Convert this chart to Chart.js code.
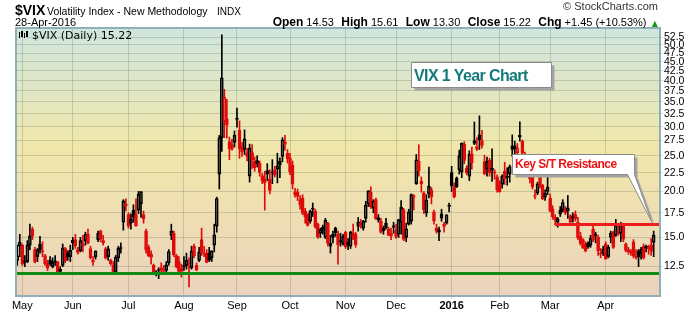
<!DOCTYPE html>
<html>
<head>
<meta charset="UTF-8" />
<title>VIX 1 Year Chart</title>
<script src="https://cdn.jsdelivr.net/npm/chart.js"></script>
<style>
  html, body { margin: 0; padding: 0; background: #fff; }
  #wrap { position: relative; width: 700px; height: 312px; overflow: hidden; font-family: "Liberation Sans", Arial, sans-serif; }
  canvas { position: absolute; left: 0; top: 0; }
  .txt { position: absolute; white-space: nowrap; line-height: 1; color: #000; }
  .hdr span { margin-left: 4px; }
  .hdr b { font-size: 12px; }
  .hdr span.v { font-size: 11px; margin-left: 3px; }
</style>
</head>
<body>
<div id="wrap">
  <canvas id="vixChart" width="700" height="312"></canvas>
  <div class="txt" style="left:15px;top:3px;font-size:14px;font-weight:bold;">$VIX</div>
  <div class="txt" style="left:47px;top:6px;font-size:10.5px;">Volatility Index - New Methodology</div>
  <div class="txt" style="left:217px;top:7px;font-size:10px;">INDX</div>
  <div class="txt" style="left:15px;top:17px;font-size:11px;">28-Apr-2016</div>
  <div class="txt" style="right:42px;top:1px;font-size:11px;color:#333;">&copy; StockCharts.com</div>
  <div class="txt hdr" style="right:42px;top:16px;font-size:12px;">
    <b>Open</b><span class="v">14.53</span>
    <span><b>High</b></span><span class="v">15.61</span>
    <span><b>Low</b></span><span class="v">13.30</span>
    <span><b>Close</b></span><span class="v">15.22</span>
    <span><b>Chg</b></span><span class="v">+1.45 (+10.53%)</span>
    <span style="font-family:'DejaVu Sans';font-size:8px;color:#1a9a1a;margin-left:2px;">&#9650;</span>
  </div>
  <div class="txt" style="left:32px;top:30px;font-size:11px;font-family:'DejaVu Sans';">$VIX (Daily) 15.22</div>
  <div class="txt" style="left:414px;top:68px;font-size:16px;font-weight:bold;color:#157a78;letter-spacing:-0.6px;">VIX 1 Year Chart</div>
  <div class="txt" style="left:515px;top:158px;font-size:12px;font-weight:bold;color:#ee1111;letter-spacing:-0.5px;">Key S/T Resistance</div>
</div>
<script>
// trading days, Apr 29 2015 - Apr 28 2016
const dates = [
  '2015-04-29','2015-04-30',
  '2015-05-01','2015-05-04','2015-05-05','2015-05-06','2015-05-07','2015-05-08','2015-05-11','2015-05-12','2015-05-13','2015-05-14',
  '2015-05-15','2015-05-18','2015-05-19','2015-05-20','2015-05-21','2015-05-22','2015-05-26','2015-05-27','2015-05-28','2015-05-29',
  '2015-06-01','2015-06-02','2015-06-03','2015-06-04','2015-06-05','2015-06-08','2015-06-09','2015-06-10','2015-06-11','2015-06-12',
  '2015-06-15','2015-06-16','2015-06-17','2015-06-18','2015-06-19','2015-06-22','2015-06-23','2015-06-24','2015-06-25','2015-06-26','2015-06-29','2015-06-30',
  '2015-07-01','2015-07-02','2015-07-06','2015-07-07','2015-07-08','2015-07-09','2015-07-10','2015-07-13','2015-07-14','2015-07-15',
  '2015-07-16','2015-07-17','2015-07-20','2015-07-21','2015-07-22','2015-07-23','2015-07-24','2015-07-27','2015-07-28','2015-07-29','2015-07-30','2015-07-31',
  '2015-08-03','2015-08-04','2015-08-05','2015-08-06','2015-08-07','2015-08-10','2015-08-11','2015-08-12','2015-08-13','2015-08-14',
  '2015-08-17','2015-08-18','2015-08-19','2015-08-20','2015-08-21','2015-08-24','2015-08-25','2015-08-26','2015-08-27','2015-08-28','2015-08-31',
  '2015-09-01','2015-09-02','2015-09-03','2015-09-04','2015-09-08','2015-09-09','2015-09-10','2015-09-11','2015-09-14','2015-09-15',
  '2015-09-16','2015-09-17','2015-09-18','2015-09-21','2015-09-22','2015-09-23','2015-09-24','2015-09-25','2015-09-28','2015-09-29','2015-09-30',
  '2015-10-01','2015-10-02','2015-10-05','2015-10-06','2015-10-07','2015-10-08','2015-10-09','2015-10-12','2015-10-13','2015-10-14',
  '2015-10-15','2015-10-16','2015-10-19','2015-10-20','2015-10-21','2015-10-22','2015-10-23','2015-10-26','2015-10-27','2015-10-28','2015-10-29','2015-10-30',
  '2015-11-02','2015-11-03','2015-11-04','2015-11-05','2015-11-06','2015-11-09','2015-11-10','2015-11-11','2015-11-12','2015-11-13',
  '2015-11-16','2015-11-17','2015-11-18','2015-11-19','2015-11-20','2015-11-23','2015-11-24','2015-11-25','2015-11-27','2015-11-30',
  '2015-12-01','2015-12-02','2015-12-03','2015-12-04','2015-12-07','2015-12-08','2015-12-09','2015-12-10','2015-12-11','2015-12-14',
  '2015-12-15','2015-12-16','2015-12-17','2015-12-18','2015-12-21','2015-12-22','2015-12-23','2015-12-24','2015-12-28','2015-12-29','2015-12-30','2015-12-31',
  '2016-01-04','2016-01-05','2016-01-06','2016-01-07','2016-01-08','2016-01-11','2016-01-12','2016-01-13','2016-01-14','2016-01-15',
  '2016-01-19','2016-01-20','2016-01-21','2016-01-22','2016-01-25','2016-01-26','2016-01-27','2016-01-28','2016-01-29',
  '2016-02-01','2016-02-02','2016-02-03','2016-02-04','2016-02-05','2016-02-08','2016-02-09','2016-02-10','2016-02-11','2016-02-12',
  '2016-02-16','2016-02-17','2016-02-18','2016-02-19','2016-02-22','2016-02-23','2016-02-24','2016-02-25','2016-02-26','2016-02-29',
  '2016-03-01','2016-03-02','2016-03-03','2016-03-04','2016-03-07','2016-03-08','2016-03-09','2016-03-10','2016-03-11','2016-03-14',
  '2016-03-15','2016-03-16','2016-03-17','2016-03-18','2016-03-21','2016-03-22','2016-03-23','2016-03-24','2016-03-28','2016-03-29','2016-03-30','2016-03-31',
  '2016-04-01','2016-04-04','2016-04-05','2016-04-06','2016-04-07','2016-04-08','2016-04-11','2016-04-12','2016-04-13','2016-04-14',
  '2016-04-15','2016-04-18','2016-04-19','2016-04-20','2016-04-21','2016-04-22','2016-04-25','2016-04-26','2016-04-27','2016-04-28'
];

const openP = [
  13.0, 14.2,
  14.3, 12.9, 12.9, 14.3, 15.8, 13.9, 13.3, 14.4, 13.7, 13.4, 12.7, 13.0, 12.5, 12.9, 12.9, 12.3, 12.6, 14.0, 13.6, 13.3,
  14.5, 14.8, 13.9, 13.8, 14.4, 14.7, 15.3, 14.0, 13.0, 13.3, 14.8, 15.6, 14.7, 14.0, 13.3, 13.0, 12.6, 12.1, 13.2, 14.0, 16.5, 18.5,
  17.3, 16.4, 17.8, 17.3, 17.8, 18.5, 17.3, 15.6, 14.1, 13.5, 12.6, 12.1, 12.2, 12.4, 12.2, 12.2, 12.8, 15.2, 15.4, 13.4, 12.9, 12.4,
  12.5, 12.6, 12.6, 12.4, 14.2, 12.6, 13.0, 14.8, 13.6, 13.6, 13.6, 13.2, 14.3, 16.1, 22.3, 28.0, 31.0, 31.5, 27.3, 26.8, 27.2,
  31.6, 29.3, 26.5, 26.0, 25.5, 22.0, 25.5, 24.2, 23.8, 23.9, 22.1, 21.6, 22.8, 21.6, 22.6, 22.9, 23.0, 24.2, 24.9, 27.3, 25.4,
  24.7, 23.6, 20.0, 19.9, 19.0, 19.2, 17.7, 17.3, 16.6, 17.9, 17.7, 16.3, 15.4, 16.0, 15.0, 16.4, 14.2, 15.0, 15.9, 15.3, 14.7, 14.4,
  15.5, 14.3, 14.2, 15.4, 15.3, 16.1, 16.4, 15.9, 16.9, 18.5, 19.9, 18.0, 19.0, 16.7, 16.6, 15.9, 16.4, 15.8, 15.4, 16.0,
  15.7, 15.3, 16.5, 17.8, 15.0, 16.3, 16.6, 19.4, 21.0, 24.2, 21.3, 19.8, 17.5, 19.7, 20.2, 17.6, 15.9, 15.5, 17.4, 16.3, 16.4, 18.3,
  22.5, 20.6, 21.7, 22.9, 22.6, 26.9, 23.2, 22.0, 25.3, 27.5, 26.5, 28.5, 27.5, 24.1, 23.0, 24.3, 22.8, 22.6, 21.9,
  20.8, 20.9, 22.7, 22.0, 22.3, 26.6, 26.1, 25.5, 28.4, 27.4, 25.2, 23.6, 22.0, 21.9, 19.5, 19.8, 22.1, 20.8, 19.3, 20.0,
  19.2, 17.9, 17.0, 16.5, 17.8, 17.8, 18.0, 17.7, 17.2, 17.1, 17.3, 16.5, 15.1, 14.8, 14.4, 14.5, 14.3, 15.8, 15.2, 15.0, 13.5, 13.6,
  14.4, 13.3, 15.0, 15.5, 15.2, 15.7, 15.4, 16.3, 14.4, 13.9, 13.8, 14.6, 13.4, 13.8, 13.6, 14.2, 14.2, 14.1, 14.3, 14.53
];

const highP = [
  14.3, 15.3,
  14.4, 13.4, 14.7, 16.3, 16.0, 14.1, 14.0, 15.1, 14.6, 13.5, 13.0, 13.3, 13.2, 13.4, 12.9, 12.5, 14.4, 14.1, 13.8, 14.3,
  15.0, 15.3, 14.1, 15.0, 15.2, 15.5, 15.8, 14.2, 13.3, 13.8, 15.6, 15.7, 15.2, 14.1, 14.2, 13.1, 12.9, 13.4, 14.2, 14.5, 19.0, 19.1,
  17.5, 17.4, 18.4, 19.1, 20.0, 20.0, 17.7, 15.8, 14.3, 13.8, 12.7, 12.2, 12.4, 12.8, 12.6, 12.9, 13.9, 16.3, 15.6, 13.5, 13.3, 12.7,
  13.3, 13.6, 13.2, 14.2, 14.4, 12.8, 14.1, 15.9, 14.2, 13.9, 14.1, 13.8, 16.3, 19.3, 28.4, 53.3, 37.9, 35.6, 28.1, 27.7, 29.2,
  33.7, 31.1, 27.2, 29.4, 26.2, 26.9, 26.8, 24.8, 25.0, 24.2, 22.4, 22.7, 23.8, 22.9, 24.4, 23.4, 25.4, 24.7, 28.0, 28.4, 26.0,
  25.4, 24.2, 20.4, 20.3, 19.5, 19.6, 18.0, 17.4, 17.8, 18.6, 17.9, 16.4, 15.9, 16.2, 16.9, 16.5, 15.2, 15.6, 16.0, 15.6, 15.4, 15.3,
  15.6, 14.9, 15.6, 16.3, 15.5, 17.0, 16.8, 16.7, 18.8, 20.1, 20.6, 19.0, 19.2, 17.3, 16.9, 16.1, 16.9, 16.0, 15.9, 16.5,
  16.3, 16.8, 18.9, 18.0, 16.4, 17.9, 19.7, 19.6, 25.2, 26.8, 21.9, 20.0, 19.6, 23.3, 20.5, 17.8, 16.3, 16.0, 17.9, 16.5, 17.3, 18.6,
  23.4, 21.1, 21.9, 25.9, 27.1, 27.3, 23.5, 25.8, 26.4, 30.9, 28.0, 32.1, 29.3, 25.1, 24.8, 24.6, 26.1, 22.9, 22.2,
  21.4, 22.2, 24.0, 23.2, 23.6, 28.5, 27.4, 27.0, 30.9, 27.6, 25.6, 23.9, 22.6, 22.3, 20.2, 21.2, 22.6, 20.9, 20.2, 22.0,
  19.7, 18.3, 17.3, 17.0, 18.2, 19.0, 18.2, 19.5, 17.3, 17.5, 17.7, 17.0, 15.5, 14.9, 14.6, 14.6, 15.2, 16.3, 15.5, 15.2, 14.0, 14.2,
  14.6, 14.3, 15.6, 15.6, 16.8, 16.3, 16.5, 16.4, 14.5, 14.1, 13.9, 14.8, 13.9, 13.9, 14.1, 14.4, 14.3, 14.3, 14.9, 15.61
];

const lowP = [
  12.6, 13.3,
  12.6, 12.5, 12.8, 13.9, 14.8, 12.8, 12.9, 13.6, 13.3, 12.6, 12.2, 12.6, 12.4, 12.6, 12.1, 11.9, 12.5, 12.8, 13.0, 12.9,
  13.9, 14.0, 13.5, 13.7, 13.7, 14.3, 14.4, 13.1, 12.6, 13.1, 14.6, 14.6, 14.3, 13.1, 13.0, 12.6, 12.1, 12.1, 12.9, 13.6, 15.7, 17.7,
  15.9, 15.8, 16.5, 16.1, 17.4, 17.0, 16.4, 13.6, 13.3, 12.7, 11.9, 11.8, 11.6, 12.0, 11.9, 12.0, 12.6, 14.8, 13.3, 12.4, 12.1, 11.7,
  12.2, 12.3, 11.0, 12.3, 13.2, 12.2, 12.9, 13.4, 13.3, 12.8, 12.9, 12.9, 13.7, 15.5, 20.3, 25.7, 28.0, 27.9, 24.4, 25.9, 26.4,
  29.9, 24.6, 24.9, 25.2, 24.2, 21.2, 23.1, 22.7, 23.3, 22.0, 21.0, 17.8, 21.4, 19.7, 21.0, 21.9, 21.1, 21.8, 24.1, 25.9, 23.9,
  22.2, 20.3, 19.3, 18.9, 17.9, 17.3, 16.4, 16.1, 16.4, 17.1, 15.9, 14.9, 15.0, 15.3, 14.9, 14.2, 13.6, 14.5, 15.1, 12.7, 14.2, 14.3,
  14.0, 13.9, 14.0, 14.8, 14.1, 15.6, 15.9, 15.7, 16.5, 18.2, 18.0, 17.5, 16.8, 16.5, 15.4, 15.3, 15.8, 15.2, 14.8, 15.4,
  14.9, 15.0, 15.3, 14.7, 14.6, 16.2, 16.3, 17.8, 20.9, 22.0, 19.9, 17.4, 17.1, 19.2, 18.5, 16.3, 15.4, 14.7, 16.6, 15.5, 16.3, 17.6,
  20.0, 19.2, 20.5, 22.3, 21.8, 23.8, 22.2, 21.4, 23.0, 26.8, 25.8, 26.0, 26.2, 22.2, 22.0, 22.0, 21.3, 21.6, 19.9,
  19.9, 20.4, 20.9, 20.8, 21.2, 24.9, 25.0, 24.6, 27.4, 25.0, 23.7, 22.0, 21.1, 20.3, 19.1, 19.6, 20.4, 19.0, 18.9, 19.6,
  17.6, 16.8, 16.2, 16.0, 17.1, 17.6, 17.3, 16.9, 16.3, 16.5, 16.6, 14.8, 14.3, 14.0, 13.7, 14.0, 14.1, 14.6, 14.5, 13.4, 13.2, 13.4,
  13.1, 13.2, 14.5, 14.0, 15.1, 15.2, 14.6, 14.6, 13.7, 13.5, 13.4, 13.2, 13.1, 12.5, 13.1, 13.1, 13.7, 13.5, 13.4, 13.30
];

const closeP = [
  13.39, 14.55,
  12.70, 12.85, 14.31, 15.15, 15.13, 12.86, 13.85, 13.86, 13.76, 12.74, 12.38, 12.73, 12.85, 12.88, 12.11, 12.13, 14.06, 12.96, 13.31, 13.84,
  14.73, 14.24, 13.66, 14.71, 14.21, 15.29, 14.47, 13.22, 12.85, 13.78, 15.39, 14.81, 14.50, 13.19, 13.96, 12.74, 12.11, 13.26, 14.01, 14.02, 18.85, 18.23,
  16.09, 16.79, 17.01, 16.09, 19.66, 19.97, 16.83, 13.90, 13.37, 13.23, 11.95, 11.95, 12.25, 12.22, 12.12, 12.64, 13.74, 15.60, 13.44, 12.50, 12.13, 12.12,
  12.56, 13.00, 12.51, 13.77, 13.39, 12.23, 13.71, 13.61, 13.49, 12.83, 13.02, 13.79, 15.25, 19.14, 28.03, 40.74, 36.02, 30.32, 26.10, 26.05, 28.43,
  31.40, 26.09, 25.61, 27.80, 24.90, 26.23, 24.37, 23.20, 24.25, 22.54, 21.35, 21.14, 22.28, 20.14, 22.44, 22.13, 23.47, 23.62, 27.63, 26.83, 24.50,
  22.55, 20.94, 19.54, 19.40, 18.40, 17.42, 17.08, 16.17, 17.67, 18.03, 16.05, 15.05, 15.75, 15.75, 16.70, 14.45, 14.46, 15.29, 15.43, 14.33, 14.61, 15.07,
  14.15, 14.54, 15.51, 15.05, 14.33, 16.52, 16.06, 16.60, 18.37, 20.08, 18.16, 18.84, 16.85, 16.99, 15.47, 15.62, 15.93, 15.19, 15.12, 16.13,
  15.07, 16.77, 18.11, 14.81, 15.84, 17.60, 19.61, 19.34, 24.39, 22.73, 20.95, 17.86, 18.94, 20.70, 19.34, 16.60, 15.57, 15.74, 16.91, 16.08, 17.29, 18.21,
  20.70, 19.34, 20.59, 24.99, 27.01, 24.30, 22.47, 25.22, 23.95, 27.02, 26.05, 27.59, 26.69, 22.34, 24.15, 22.50, 23.11, 22.42, 20.20,
  19.98, 21.98, 21.65, 21.84, 23.38, 26.00, 26.54, 26.29, 28.14, 25.40, 24.11, 22.31, 21.64, 20.53, 19.38, 20.98, 20.72, 19.11, 19.81, 20.55,
  17.70, 17.09, 16.70, 16.86, 17.35, 18.67, 17.50, 18.05, 16.50, 16.92, 16.84, 14.99, 14.44, 14.02, 13.79, 14.17, 14.94, 14.74, 15.24, 13.82, 13.56, 13.95,
  13.10, 14.12, 15.42, 14.09, 16.16, 15.36, 16.26, 14.85, 13.84, 13.72, 13.62, 13.35, 13.24, 13.28, 13.95, 13.22, 14.08, 13.96, 13.77, 15.22
];

// x axis month labels (first trading day of each month)
const monthStarts = ['2015-05-01','2015-06-01','2015-07-01','2015-08-03','2015-09-01','2015-10-01',
                     '2015-11-02','2015-12-01','2016-01-04','2016-02-01','2016-03-01','2016-04-01'];
const monthLabels = ['May','Jun','Jul','Aug','Sep','Oct','Nov','Dec','2016','Feb','Mar','Apr'];

// y axis (log) tick labels and range
const yTicks = [12.5, 15, 17.5, 20, 22.5, 25, 27.5, 30, 32.5, 35, 37.5, 40, 42.5, 45, 47.5, 50, 52.5];
const yMin = 10.4;
const yMax = 55.6;

// drawn levels
const supportLevel = 12.0;
const resistanceLevel = 16.35;
const resistanceStart = '2016-03-03';

const upColor = '#000000';
const downColor = '#e00a0a';
const gridColor = 'rgba(70, 90, 70, 0.22)';
const fontFamily = '"Liberation Sans", Arial, sans-serif';

const monthStartIdx = monthStarts.map(d => dates.indexOf(d));
const candleColor = closeP.map((c, i) => (i === 0 || c >= closeP[i - 1]) ? upColor : downColor);
const bodyFill = closeP.map((c, i) => c > openP[i] ? 'rgba(0,0,0,0)' : candleColor[i]);
const bodies = openP.map((o, i) => [o, closeP[i]]);
const upperWicks = highP.map((h, i) => [Math.max(openP[i], closeP[i]), h]);
const lowerWicks = lowP.map((l, i) => [l, Math.min(openP[i], closeP[i])]);

const chartBackground = {
  id: 'chartBackground',
  beforeDraw(chart) {
    const { ctx, chartArea: a } = chart;
    const g = ctx.createLinearGradient(0, a.top, 0, a.bottom);
    g.addColorStop(0, '#cfe6df');
    g.addColorStop(0.45, '#f1e7aa');
    g.addColorStop(1, '#ebd3bd');
    ctx.save();
    ctx.fillStyle = g;
    ctx.fillRect(a.left, a.top, a.right - a.left, a.bottom - a.top);
    ctx.restore();
  }
};

const overlays = {
  id: 'overlays',
  afterDatasetsDraw(chart) {
    const { ctx, chartArea: a, scales } = chart;
    const x = scales.x, y = scales.y;
    ctx.save();

    // support line
    const ys = Math.round(y.getPixelForValue(supportLevel)) + 0.5;
    ctx.strokeStyle = '#138a13';
    ctx.lineWidth = 3;
    ctx.beginPath();
    ctx.moveTo(a.left, ys);
    ctx.lineTo(a.right, ys);
    ctx.stroke();

    // resistance line
    const yr = Math.round(y.getPixelForValue(resistanceLevel)) + 0.5;
    const xr = x.getPixelForValue(dates.indexOf(resistanceStart));
    ctx.strokeStyle = '#ee1c1c';
    ctx.beginPath();
    ctx.moveTo(xr, yr);
    ctx.lineTo(a.right, yr);
    ctx.stroke();

    // plot border
    ctx.strokeStyle = '#8fb0b6';
    ctx.lineWidth = 2;
    ctx.strokeRect(a.left, a.top, a.right - a.left, a.bottom - a.top);

    // legend glyph
    ctx.fillStyle = '#000';
    ctx.fillRect(19, 32, 1, 6);
    ctx.fillRect(21, 31, 2, 6);
    ctx.fillRect(24, 33, 1, 5);
    ctx.fillRect(26, 31, 2, 6);

    // title box
    const box = (pts, dx, dy, fill) => {
      ctx.beginPath();
      pts.forEach((p, i) => i ? ctx.lineTo(p[0] + dx, p[1] + dy) : ctx.moveTo(p[0] + dx, p[1] + dy));
      ctx.closePath();
      ctx.fillStyle = fill;
      ctx.fill();
    };
    const titleBox = [[411.5, 62.5], [551.5, 62.5], [551.5, 87.5], [411.5, 87.5]];
    box(titleBox, 3, 3, '#a3a3a3');
    box(titleBox, 0, 0, '#ffffff');
    ctx.strokeStyle = '#8a8a8a';
    ctx.lineWidth = 1;
    ctx.stroke();

    // callout box with tail pointing at the resistance line
    const tipX = a.right - 8, tipY = yr - 2;
    const callout = [[512.5, 154.5], [634.5, 154.5], [634.5, 174.5], [tipX, tipY], [627.5, 174.5], [512.5, 174.5]];
    box(callout, 3, 3, '#a3a3a3');
    box(callout, 0, 0, '#ffffff');
    ctx.stroke();

    ctx.restore();
  }
};

const ctx = document.getElementById('vixChart').getContext('2d');
new Chart(ctx, {
  type: 'bar',
  data: {
    labels: dates.concat(['', '']),
    datasets: [
      {
        label: 'upper wick',
        data: upperWicks,
        backgroundColor: candleColor,
        barThickness: 1,
        grouped: false,
        order: 2
      },
      {
        label: 'lower wick',
        data: lowerWicks,
        backgroundColor: candleColor,
        barThickness: 1,
        grouped: false,
        order: 2
      },
      {
        label: '$VIX',
        data: bodies,
        backgroundColor: bodyFill,
        borderColor: candleColor,
        borderWidth: 1,
        borderSkipped: false,
        barThickness: 3,
        minBarLength: 1,
        grouped: false,
        order: 1
      }
    ]
  },
  options: {
    responsive: false,
    devicePixelRatio: 1,
    animation: false,
    events: [],
    layout: { padding: { left: 16, top: 28, right: 0, bottom: 0 } },
    plugins: {
      legend: { display: false },
      tooltip: { enabled: false }
    },
    scales: {
      x: {
        type: 'category',
        offset: true,
        grid: { offset: false, color: gridColor, tickLength: 3 },
        border: { display: false },
        ticks: {
          autoSkip: false,
          maxRotation: 0,
          padding: 0,
          color: '#000',
          font: (c) => ({ family: fontFamily, size: 11, weight: monthLabels[c.index] === '2016' ? 'bold' : 'normal' }),
          callback: (v) => monthLabels[monthStartIdx.indexOf(v)]
        },
        afterBuildTicks: (axis) => { axis.ticks = monthStartIdx.map(i => ({ value: i })); },
        afterFit: (s) => { s.height = 16; }
      },
      y: {
        type: 'logarithmic',
        position: 'right',
        min: yMin,
        max: yMax,
        grid: { color: gridColor, tickLength: 3 },
        border: { display: false },
        ticks: {
          autoSkip: false,
          padding: 1,
          color: '#000',
          font: { family: fontFamily, size: 10.5 },
          callback: (v) => Number(v).toFixed(1)
        },
        afterBuildTicks: (axis) => { axis.ticks = yTicks.map(v => ({ value: v })); },
        afterFit: (s) => { s.width = 40; }
      }
    }
  },
  plugins: [chartBackground, overlays]
});
</script>
</body>
</html>
